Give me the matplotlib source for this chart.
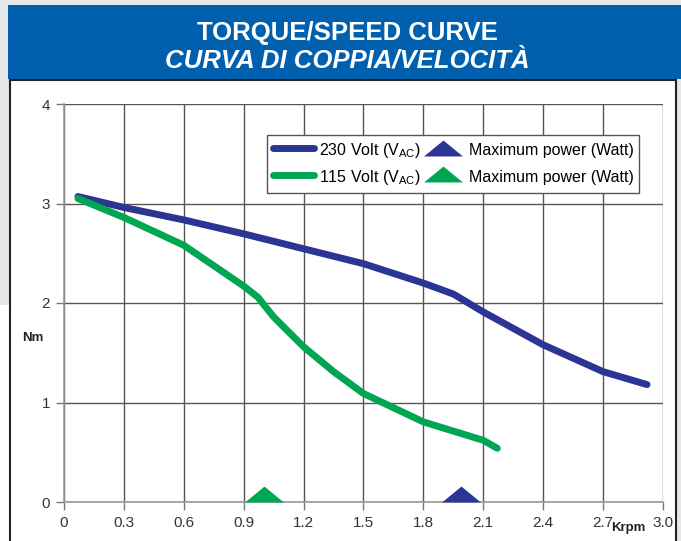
import matplotlib
matplotlib.use("Agg")
import matplotlib.pyplot as plt
from matplotlib.patches import Rectangle
from matplotlib.lines import Line2D
from matplotlib.path import Path

# speed (Krpm) and torque (Nm)
speed_230 = [0.07, 0.3, 0.6, 0.9, 1.2, 1.5, 1.8, 1.95, 2.1, 2.4, 2.7, 2.92]
torque_230 = [3.07, 2.96, 2.835, 2.695, 2.545, 2.395, 2.2, 2.09, 1.91, 1.58, 1.31, 1.18]
speed_115 = [0.07, 0.3, 0.6, 0.9, 0.97, 1.05, 1.2, 1.35, 1.5, 1.8, 2.1, 2.17]
torque_115 = [3.05, 2.86, 2.58, 2.17, 2.06, 1.86, 1.56, 1.31, 1.09, 0.805, 0.62, 0.54]

max_power_speed = [1.99, 1.0]      # 230 V, 115 V
max_power_level = [0, 0]

x_ticks = [0, 0.3, 0.6, 0.9, 1.2, 1.5, 1.8, 2.1, 2.4, 2.7, 3.0]
x_labels = ["0", "0.3", "0.6", "0.9", "1.2", "1.5", "1.8", "2.1", "2.4", "2.7", "3.0"]
y_ticks = [0, 1, 2, 3, 4]

labels = ["230 Volt (V$_{\\mathregular{AC}}$)", "115 Volt (V$_{\\mathregular{AC}}$)",
          "Maximum power (Watt)", "Maximum power (Watt)"]

BLUE = "#2b3593"
GREEN = "#00a651"
HEADER = "#0060ae"
GREY_BG = "#e6e7e8"

plt.rcParams['font.family'] = ['Liberation Sans', 'DejaVu Sans']
plt.rcParams['mathtext.fontset'] = 'custom'
plt.rcParams['mathtext.rm'] = 'Liberation Sans'

W, H = 681, 541
fig = plt.figure(figsize=(W / 100, H / 100), dpi=100)
fig.patch.set_facecolor("white")


def px_rect(x0, y0, x1, y1, z, **kw):
    # rectangle given in figure pixels measured from the top-left corner
    fig.add_artist(Rectangle((x0 / W, 1 - y1 / H), (x1 - x0) / W, (y1 - y0) / H,
                             transform=fig.transFigure, zorder=z, **kw))


# page background and frame, kept under the axes
px_rect(0, 0, W, 305, -5, facecolor=GREY_BG, edgecolor="none")
px_rect(676, 0, W, H, -5, facecolor=GREY_BG, edgecolor="none")
px_rect(10, 80, 676, H + 5, -4, facecolor="white", edgecolor="#222222", linewidth=1.5)
px_rect(8, 5, W, 79, -3, facecolor=HEADER, edgecolor="none")

fig.text(347 / W, 1 - 33 / H, "TORQUE/SPEED CURVE", ha="center", va="center",
         color="white", fontsize=18.5, fontweight="bold")
fig.text(347 / W, 1 - 60 / H, "CURVA DI COPPIA/VELOCITÀ", ha="center", va="center",
         color="white", fontsize=18.5, fontweight="bold", style="italic")

ax = fig.add_axes([64 / W, 1 - 502 / H, (663 - 64) / W, (502 - 104) / H])
ax.set_facecolor("none")

ax.plot(speed_230, torque_230, color=BLUE, linewidth=5, solid_capstyle="round",
        solid_joinstyle="round", zorder=3)
ax.plot(speed_115, torque_115, color=GREEN, linewidth=5, solid_capstyle="round",
        solid_joinstyle="round", zorder=3)

# flat triangle with its base on the marker origin
tri_base = Path([(-1, 0), (1, 0), (0, 0.82), (-1, 0)])
tri_mid = Path([(-1, -0.41), (1, -0.41), (0, 0.41), (-1, -0.41)])
ax.plot(max_power_speed[0], max_power_level[0], linestyle="none", marker=tri_base,
        markersize=28, color=BLUE, markeredgewidth=0, zorder=4, clip_on=False)
ax.plot(max_power_speed[1], max_power_level[1], linestyle="none", marker=tri_base,
        markersize=28, color=GREEN, markeredgewidth=0, zorder=4, clip_on=False)

ax.set_xlim(0, 3.0)
ax.set_ylim(0, 4)
ax.set_xticks(x_ticks)
ax.set_xticklabels(x_labels)
ax.set_yticks(y_ticks)
ax.grid(True, color="#555555", linewidth=1)
ax.set_axisbelow(True)
for side in ["top", "right"]:
    ax.spines[side].set_visible(False)
for side in ["left", "bottom"]:
    ax.spines[side].set_color("#999999")
    ax.spines[side].set_linewidth(1.2)
ax.tick_params(direction="out", length=6, width=1, color="#777777",
               labelsize=11, labelcolor="#333333", pad=4)

fig.text(33 / W, 1 - 338 / H, "Nm", ha="center", va="center", fontsize=9.5,
         fontweight="bold", color="#222222")
fig.text(628 / W, 1 - 528 / H, "Krpm", ha="center", va="center", fontsize=9.5,
         fontweight="bold", color="#222222")

handles = [
    Line2D([], [], color=BLUE, linewidth=5, solid_capstyle="round"),
    Line2D([], [], color=GREEN, linewidth=5, solid_capstyle="round"),
    Line2D([], [], linestyle="none", marker=tri_mid, markersize=28, color=BLUE, markeredgewidth=0),
    Line2D([], [], linestyle="none", marker=tri_mid, markersize=28, color=GREEN, markeredgewidth=0),
]
leg = ax.legend(handles, labels, ncol=2, loc="upper left",
                bbox_to_anchor=((267 - 64) / 599, (502 - 135) / 398),
                borderaxespad=0, fontsize=11.5, handlelength=2.6, handleheight=1.45,
                handletextpad=0.3, columnspacing=0.1, labelspacing=0.45, borderpad=0.35,
                fancybox=False, framealpha=1, edgecolor="#555555")
leg.get_frame().set_linewidth(1)
leg.set_zorder(5)

fig.savefig("out.png", dpi=100)
